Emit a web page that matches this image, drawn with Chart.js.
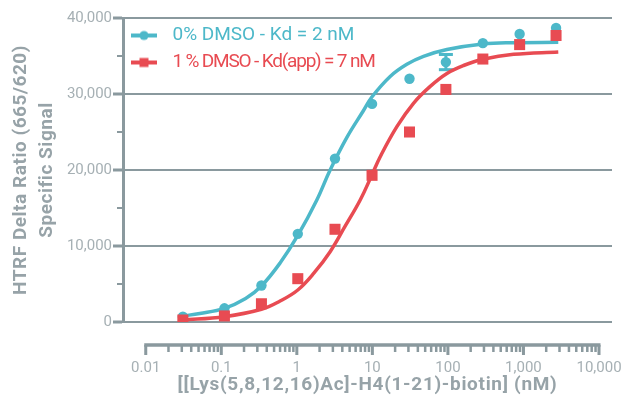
<!DOCTYPE html>
<html><head><meta charset="utf-8">
<script src="https://cdn.jsdelivr.net/npm/chart.js@4/dist/chart.umd.min.js"></script>
<style>html,body{margin:0;padding:0;background:#fff}</style>
</head><body>
<canvas id="c" width="635" height="404"></canvas>
<script>
// ---- data ----
const concentrations = [0.031, 0.11, 0.34, 1.03, 3.2, 9.9, 31, 94, 290, 890, 2700];
const dmso0Signal = [700, 1800, 4800, 11600, 21500, 28700, 32000, 34200, 36700, 37900, 38700];
const dmso0Error  = [0, 0, 0, 0, 0, 0, 0, 1000, 0, 0, 0];
const dmso1Signal = [260, 800, 2400, 5700, 12200, 19300, 25000, 30600, 34600, 36500, 37700];

const dmso0FitX = [0.031, 0.052, 0.11, 0.21, 0.34, 0.60, 1.04, 1.84, 2.76, 4.6, 7.6, 9.85, 17.2, 28.6, 47.5, 97, 291, 740, 2890];
const dmso0FitY = [790, 1120, 1800, 3100, 4740, 7760, 11450, 16050, 20000, 24300, 27800, 29600, 32300, 33900, 34950, 35850, 36580, 36750, 36800];
const dmso1FitX = [0.030, 0.11, 0.34, 0.60, 1.03, 1.69, 2.76, 4.36, 6.9, 9.85, 12.7, 21.1, 35, 58.3, 97, 161, 291, 740, 2890];
const dmso1FitY = [260, 700, 1670, 2760, 4210, 6450, 9250, 12600, 16050, 19340, 21750, 25700, 28780, 31000, 32700, 33750, 34570, 35220, 35530];

const seriesNames = ['0% DMSO - Kd = 2 nM', '1 % DMSO - Kd(app) = 7 nM'];
const xTickValues = [0.01, 0.1, 1, 10, 100, 1000, 10000];
const xTickLabels = ['0.01', '0.1', '1', '10', '100', '1,000', '10,000'];
const yTickValues = [0, 10000, 20000, 30000, 40000];
const yMinorValues = [5000, 15000, 25000, 35000];
const xTitle = '[[Lys(5,8,12,16)Ac]-H4(1-21)-biotin] (nM)';
const yTitle = ['HTRF Delta Ratio (665/620)', 'Specific Signal'];

// ---- styles ----
const FONT = "'Liberation Sans Narrow', 'Roboto', sans-serif";
const BLUE = '#4db8c9', RED = '#e84b52', AXIS = '#8a999e', TICKTXT = '#a6b0b4', TITLE = '#97a3a8';
// target text widths in px (layout of the reference)
const legendTextWidth = [182, 202];
const xTitleWidth = 380, yTitleWidth = 250, tickLabelWidth = 45;

const mctx = document.createElement('canvas').getContext('2d');
function textWidth(size, weight, text) {
  mctx.font = Chart.helpers.toFont({family: FONT, size, weight}).string;
  mctx.letterSpacing = '0px';
  return mctx.measureText(text).width;
}
function spacingFor(size, weight, text, target) {
  const w = textWidth(size, weight, text);
  return ((target - w) / text.length).toFixed(2) + 'px';
}
const tickSize = Math.round(17 * tickLabelWidth / textWidth(17, 'normal', '10,000') * 2) / 2;
const legendSpacing = seriesNames.map((t, i) => spacingFor(19, 'normal', t, legendTextWidth[i]));
const xTitleSpacing = spacingFor(19, 'bold', xTitle, xTitleWidth);
const yTitleSpacing = spacingFor(19, 'bold', yTitle[0], yTitleWidth);

const pts = (xs, ys) => xs.map((x, i) => ({x, y: ys[i]}));

function legendIcon(color, shape) {
  const c = document.createElement('canvas');
  c.width = 32; c.height = 12;
  const g = c.getContext('2d');
  g.fillStyle = color;
  g.fillRect(0, 4, 26, 4);
  if (shape === 'circle') { g.beginPath(); g.arc(13, 6, 4.6, 0, Math.PI * 2); g.fill(); }
  else { g.fillRect(8.5, 1.5, 9, 9); }
  return c;
}
const iconBlue = legendIcon(BLUE, 'circle');
const iconRed = legendIcon(RED, 'rect');

function withSpacing(obj, method, spacing) {
  if (!obj || obj['_sp_' + method]) return;
  const orig = obj[method].bind(obj);
  obj['_sp_' + method] = true;
  obj[method] = function (...args) {
    const ctx = obj.ctx;
    ctx.save();
    ctx.letterSpacing = spacing;
    const r = orig(...args);
    ctx.restore();
    return r;
  };
}

function patchLegend(legend) {
  if (!legend || legend._spPatched) return;
  legend._spPatched = true;
  const orig = legend.draw.bind(legend);
  const proto = CanvasRenderingContext2D.prototype.fillText;
  legend.draw = function (...args) {
    const ctx = legend.ctx;
    ctx.save();
    ctx.fillText = function (t, x, y, mw) {
      const k = seriesNames.indexOf(t);
      const f = this.font;
      this.letterSpacing = k >= 0 ? legendSpacing[k] : '0px';
      this.font = f;
      return mw === undefined ? proto.call(this, t, x, y) : proto.call(this, t, x, y, mw);
    };
    const r = orig(...args);
    delete ctx.fillText;
    ctx.restore();
    return r;
  };
}

const textSpacing = {
  id: 'textSpacing',
  afterLayout(chart) {
    withSpacing(chart.scales.x, 'drawTitle', xTitleSpacing);
    withSpacing(chart.scales.y, 'drawTitle', yTitleSpacing);
    patchLegend(chart.legend);
  }
};

const axisDecor = {
  id: 'axisDecor',
  beforeDatasetsDraw(chart) {
    const {ctx, scales: {x, y}} = chart;
    ctx.save();
    ctx.fillStyle = BLUE;
    concentrations.forEach((c, i) => {
      const e = dmso0Error[i];
      if (!e) return;
      const px = x.getPixelForValue(c);
      const top = y.getPixelForValue(dmso0Signal[i] + e);
      const bot = y.getPixelForValue(dmso0Signal[i] - e);
      ctx.fillRect(px - 1.5, top, 3, bot - top);
      ctx.fillRect(px - 7, top - 1.5, 14, 3);
      ctx.fillRect(px - 7, bot - 1.5, 14, 3);
    });
    ctx.restore();
  },
  afterDraw(chart) {
    const {ctx, scales: {x, y}, chartArea} = chart;
    ctx.save();
    ctx.fillStyle = AXIS;
    const ay = chartArea.bottom + 23;
    const x0 = x.getPixelForValue(xTickValues[0]);
    const x1 = x.getPixelForValue(xTickValues[xTickValues.length - 1]);
    ctx.fillRect(x0 - 1.5, ay - 1.75, x1 - x0 + 3, 3.5);
    xTickValues.forEach((v, i) => {
      const p = x.getPixelForValue(v);
      ctx.fillRect(p - 1.5, ay, 3, 10);
      if (i < xTickValues.length - 1) {
        for (let m = 2; m <= 9; m++) {
          const q = x.getPixelForValue(v * m);
          ctx.fillRect(q - 1.25, ay, 2.5, 7);
        }
      }
    });
    yMinorValues.forEach(v => {
      const py = y.getPixelForValue(v);
      ctx.fillRect(chartArea.left - 6, py - 1, 6, 2);
    });
    ctx.restore();
  }
};

new Chart(document.getElementById('c'), {
  data: {
    datasets: [
      { type: 'scatter', label: seriesNames[1], data: pts(concentrations, dmso1Signal), order: 1,
        pointStyle: 'rect', pointRadius: 7.8, pointBackgroundColor: RED, pointBorderWidth: 0, borderColor: RED, backgroundColor: RED },
      { type: 'scatter', label: seriesNames[0], data: pts(concentrations, dmso0Signal), order: 2,
        pointStyle: 'circle', pointRadius: 5.2, pointBackgroundColor: BLUE, pointBorderWidth: 0, borderColor: BLUE, backgroundColor: BLUE },
      { type: 'line', label: seriesNames[1] + ' fit', data: pts(dmso1FitX, dmso1FitY), order: 3,
        borderColor: RED, borderWidth: 3.5, pointRadius: 0, tension: 0.4, fill: false },
      { type: 'line', label: seriesNames[0] + ' fit', data: pts(dmso0FitX, dmso0FitY), order: 4,
        borderColor: BLUE, borderWidth: 3.5, pointRadius: 0, tension: 0.4, fill: false }
    ]
  },
  options: {
    responsive: false,
    animation: false,
    devicePixelRatio: 1,
    layout: { padding: { left: 0, top: 18, right: 23, bottom: 0 } },
    scales: {
      x: {
        type: 'logarithmic', min: 0.005, max: 14860,
        afterBuildTicks: s => { s.ticks = xTickValues.map(v => ({value: v})); },
        afterFit: s => { s.height = 82; s.paddingLeft = 0; s.paddingRight = 0; },
        grid: { display: false, drawTicks: false },
        border: { display: false },
        ticks: { autoSkip: false, maxRotation: 0, padding: 37, color: TICKTXT,
          font: { family: FONT, size: tickSize }, callback: (v, i) => xTickLabels[i] },
        title: { display: true, text: xTitle, color: TITLE,
          font: { family: FONT, size: 19, weight: 'bold' }, padding: { top: 0, bottom: 7 } }
      },
      y: {
        min: 0, max: 40000,
        afterBuildTicks: s => { s.ticks = yTickValues.map(v => ({value: v})); },
        afterFit: s => { s.width = 123; s.paddingTop = 0; s.paddingBottom = 0; },
        ticks: { padding: 1, color: TICKTXT, font: { family: FONT, size: tickSize },
          callback: v => v.toLocaleString('en-US') },
        grid: { color: AXIS, lineWidth: 2, tickLength: 10, tickWidth: 3, tickColor: AXIS },
        border: { display: true, color: AXIS, width: 3 },
        title: { display: true, text: yTitle, color: TITLE,
          font: { family: FONT, size: 19, weight: 'bold', lineHeight: 1.38 }, padding: { top: 8 } }
      }
    },
    plugins: {
      tooltip: { enabled: false },
      legend: {
        position: 'chartArea', align: 'start',
        title: { display: true, text: ' ', font: { size: 1, lineHeight: 1 }, padding: { top: 0, bottom: 17 } },
        labels: {
          usePointStyle: true, pointStyleWidth: 32, padding: 8,
          font: { family: FONT, size: 19 },
          generateLabels: () => [
            { text: seriesNames[0], fontColor: BLUE, fillStyle: BLUE, strokeStyle: BLUE, lineWidth: 0, pointStyle: iconBlue, hidden: false, datasetIndex: 1 },
            { text: seriesNames[1], fontColor: RED, fillStyle: RED, strokeStyle: RED, lineWidth: 0, pointStyle: iconRed, hidden: false, datasetIndex: 0 }
          ]
        }
      }
    }
  },
  plugins: [axisDecor, textSpacing]
});
</script>
</body></html>
